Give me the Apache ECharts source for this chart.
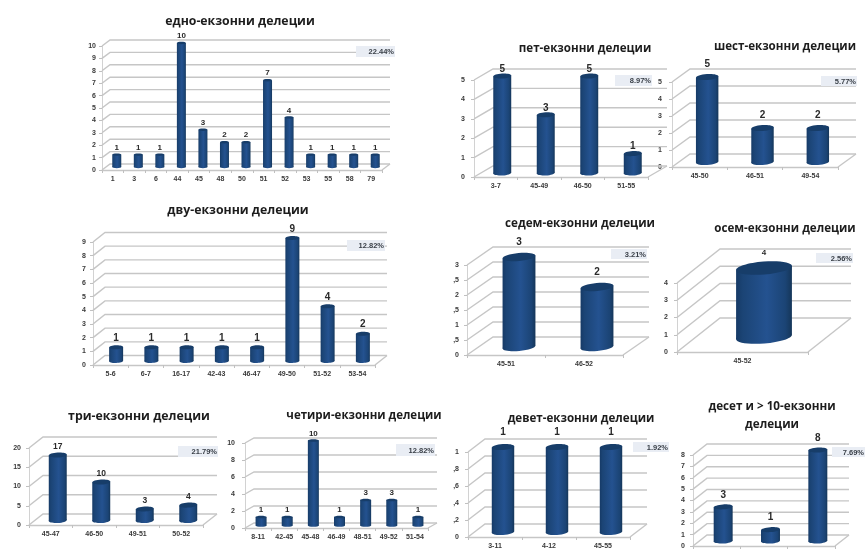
<!DOCTYPE html>
<html>
<head>
<meta charset="utf-8">
<title>Екзонни делеции</title>
<style>html,body{margin:0;padding:0;background:#fff}#chart{width:865px;height:553px}</style>
<script src="https://cdn.jsdelivr.net/npm/echarts@6/dist/echarts.min.js"></script>
</head>
<body>
<div id="chart"></div>
<script>
// Deletion counts per exon range, one group for each deletion size.
const oneExonCats = ['1','3','6','44','45','48','50','51','52','53','55','58','79'];
const oneExonVals = [1,1,1,10,3,2,2,7,4,1,1,1,1];
const twoExonCats = ['5-6','6-7','16-17','42-43','46-47','49-50','51-52','53-54'];
const twoExonVals = [1,1,1,1,1,9,4,2];
const threeExonCats = ['45-47','46-50','49-51','50-52'];
const threeExonVals = [17,10,3,4];
const fourExonCats = ['8-11','42-45','45-48','46-49','48-51','49-52','51-54'];
const fourExonVals = [1,1,10,1,3,3,1];
const fiveExonCats = ['3-7','45-49','46-50','51-55'];
const fiveExonVals = [5,3,5,1];
const sixExonCats = ['45-50','46-51','49-54'];
const sixExonVals = [5,2,2];
const sevenExonCats = ['45-51','46-52'];
const sevenExonVals = [3,2];
const eightExonCats = ['45-52'];
const eightExonVals = [4];
const nineExonCats = ['3-11','4-12','45-55'];
const nineExonVals = [1,1,1];
const tenExonCats = ['','',''];
const tenExonVals = [3,1,8];

// Y tick labels where they are not plain numbers
const sevenTicks = ['0',',5','1',',5','2',',5','3'];
const nineTicks = ['0',',2',',4',',6',',8','1'];

const titles = ['едно-екзонни делеции','дву-екзонни делеции','три-екзонни делеции','четири-екзонни делеции',
  'пет-екзонни делеции','шест-екзонни делеции','седем-екзонни делеции','осем-екзонни делеции',
  'девет-екзонни делеции','десет и > 10-екзонни\nделеции'];
const shares = ['22.44%','12.82%','21.79%','12.82%','8.97%','5.77%','3.21%','2.56%','1.92%','7.69%'];
const catGroups = [oneExonCats,twoExonCats,threeExonCats,fourExonCats,fiveExonCats,sixExonCats,sevenExonCats,eightExonCats,nineExonCats,tenExonCats];
const valGroups = [oneExonVals,twoExonVals,threeExonVals,fourExonVals,fiveExonVals,sixExonVals,sevenExonVals,eightExonVals,nineExonVals,tenExonVals];
const tickGroups = [null,null,null,null,null,null,sevenTicks,null,nineTicks,null];

// Panel layout: front plane l/r/t/b, wall depth dx/dy, bar offset bx/by, bar width w,
// cap radius ry and tilt, value-label gap, axis scale, label margin, title centre and size, share box.
const panels = [
 {l:102,r:382,t:46,b:170,dx:8,dy:6,bx:4,by:3,w:9,ry:1.2,tilt:0,gap:7,max:10,step:1,m:6,tx:240,ty:12,fs:12.3,box:[356,46,39,11],lf:8},
 {l:93,r:375,t:242,b:365,dx:12,dy:9.5,bx:5.5,by:4,w:14,ry:2,tilt:.03,gap:9,max:9,step:1,m:7,tx:238,ty:201,fs:12.3,box:[347,240,38,11],lf:10},
 {l:29,r:203,t:448,b:525,dx:14,dy:11,bx:7,by:4.5,w:18,ry:2.5,tilt:.06,gap:8,max:20,step:5,m:8,tx:139,ty:407,fs:12.3,box:[178,446,40,11],lf:8.5},
 {l:245,r:428,t:443,b:528,dx:9,dy:5,bx:3,by:2.5,w:11,ry:1.3,tilt:0,gap:7,max:10,step:2,m:10,tx:364,ty:407,fs:11.5,box:[396,444,39,12],lf:8},
 {l:474,r:648,t:80,b:177,dx:19,dy:11,bx:6.5,by:4,w:18,ry:2.5,tilt:.06,gap:7,max:5,step:1,m:9,tx:585,ty:40,fs:11.6,box:[615,75,37,11],lf:10},
 {l:672,r:838,t:82,b:167,dx:18,dy:13,bx:7.5,by:5,w:22.5,ry:3,tilt:.07,gap:13,max:5,step:1,m:10,tx:785,ty:38,fs:11.6,box:[821,76,36,10],lf:10},
 {l:467,r:623,t:265,b:355,dx:26,dy:18,bx:13,by:8,w:33,ry:4,tilt:.09,gap:15,max:3,step:.5,m:8,tx:580,ty:215,fs:11.7,box:[611,249,36,10],lf:10},
 {l:677,r:808,t:283,b:352,dx:43,dy:34,bx:21.5,by:15,w:56,ry:6.5,tilt:.08,gap:15,max:4,step:1,m:9,tx:785,ty:220,fs:11.6,box:[816,253,37,10],lf:8},
 {l:468,r:630,t:452,b:537,dx:17,dy:13,bx:8,by:5,w:22.5,ry:3,tilt:.07,gap:15,max:1,step:.2,m:9,tx:581,ty:410,fs:11.6,box:[633,442,36,10],lf:10},
 {l:693,r:835,t:455,b:546,dx:14,dy:11,bx:6.5,by:5,w:19,ry:2.5,tilt:.06,gap:12,max:8,step:1,m:8,tx:772,ty:398,fs:11.7,box:[832,447,33,10],lf:10}
];

const axisFont = {fontFamily:'Liberation Sans',fontSize:7,fontWeight:'bold',color:'#3a3a3a'};
const wallColor = '#c6c6c6';
const barSides = new echarts.graphic.LinearGradient(0,0,1,0,[
  {offset:0,color:'#163a66'},{offset:.12,color:'#1b4475'},{offset:.55,color:'#245290'},{offset:.88,color:'#1b4475'},{offset:1,color:'#153659'}]);

// Side wall, back wall and floor outline for every y tick
function renderWalls(p){
  return function(params,api){
    const v = api.value(0), y = api.coord([0,v])[1];
    const cs = params.coordSys, x0 = cs.x, x1 = cs.x+cs.width;
    const kids = [{type:'polyline',shape:{points:[[x0,y],[x0+p.dx,y-p.dy],[x1+p.dx,y-p.dy]]},
      style:{stroke:wallColor,lineWidth:1.4,fill:null}}];
    if(v===0){
      kids.push({type:'line',shape:{x1:x1,y1:y,x2:x1+p.dx,y2:y-p.dy},style:{stroke:wallColor,lineWidth:1.4}});
    }
    return {type:'group',children:kids};
  };
}

// A cylinder standing on the floor, with its count above the cap
function renderCylinder(p){
  return function(params,api){
    const i = api.value(0), v = api.value(1);
    const base = api.coord([i,0]), top = api.coord([i,v]);
    const cx = base[0]+p.bx, yb = base[1]-p.by, yt = top[1]-p.by;
    const rx = p.w/2, ca = Math.cos(p.tilt), sa = Math.sin(p.tilt);
    const lx = cx-rx*ca, rxx = cx+rx*ca, lo = rx*sa;
    return {type:'group',children:[
      {type:'ellipse',shape:{cx:cx,cy:yb,rx:rx,ry:p.ry},rotation:p.tilt,originX:cx,originY:yb,style:{fill:barSides}},
      {type:'polygon',shape:{points:[[lx,yt+lo],[rxx,yt-lo],[rxx,yb-lo],[lx,yb+lo]]},style:{fill:barSides}},
      {type:'ellipse',shape:{cx:cx,cy:yt,rx:rx,ry:p.ry},rotation:p.tilt,originX:cx,originY:yt,style:{fill:'#173d69'}},
      {type:'text',z2:5,style:{text:String(v),x:cx,y:yt-p.gap,align:'center',verticalAlign:'middle',
        fontFamily:'Liberation Sans',fontWeight:'bold',fontSize:p.lf,fill:'#2a2a2a'}}
    ]};
  };
}

const grid=[],xAxis=[],yAxis=[],series=[],title=[],graphic=[];
panels.forEach(function(p,k){
  grid.push({left:p.l,top:p.t,width:p.r-p.l,height:p.b-p.t});
  xAxis.push({type:'category',gridIndex:k,data:catGroups[k],
    axisLine:{lineStyle:{color:wallColor,width:1.4}},
    axisTick:{show:true,length:3,lineStyle:{color:'#c0c0c0'}},
    axisLabel:Object.assign({show:k!==9,margin:6,interval:0},axisFont),splitLine:{show:false}});
  const ticks = tickGroups[k];
  yAxis.push({type:'value',gridIndex:k,min:0,max:p.max,interval:p.step,
    axisLine:{show:true,lineStyle:{color:'#d2d2d2',width:1}},
    axisTick:{show:true,length:3,lineStyle:{color:'#c0c0c0'}},splitLine:{show:false},
    axisLabel:Object.assign({margin:p.m,showMinLabel:true,showMaxLabel:true,
      formatter:ticks?function(v){return ticks[Math.round(v/p.step)];}:undefined},axisFont)});
  const tickVals=[];
  for(let n=0;n<=Math.round(p.max/p.step);n++) tickVals.push([+(n*p.step).toFixed(2)]);
  series.push({type:'custom',xAxisIndex:k,yAxisIndex:k,z:1,silent:true,clip:false,data:tickVals,
    encode:{y:0},renderItem:renderWalls(p)});
  series.push({type:'custom',xAxisIndex:k,yAxisIndex:k,z:3,silent:true,clip:false,
    data:valGroups[k].map(function(v,i){return [i,v];}),encode:{x:0,y:1},renderItem:renderCylinder(p)});
  title.push({text:titles[k],left:p.tx,top:p.ty,padding:0,textAlign:'center',
    textStyle:{fontFamily:'Open Sans',fontWeight:'bold',fontSize:p.fs,lineHeight:18,color:'#1d1d1d'}});
  graphic.push({type:'rect',z:10,shape:{x:p.box[0],y:p.box[1],width:p.box[2],height:p.box[3]},style:{fill:'#e9edf4'}});
  graphic.push({type:'text',z:11,style:{text:shares[k],x:p.box[0]+p.box[2]-1,y:p.box[1]+p.box[3]/2+.5,
    align:'right',verticalAlign:'middle',fontFamily:'Liberation Sans',fontWeight:'bold',fontSize:7.5,fill:'#3a4048'}});
});

const chart = echarts.init(document.getElementById('chart'),null,{renderer:'canvas'});
chart.setOption({animation:false,backgroundColor:'#fff',title:title,grid:grid,xAxis:xAxis,yAxis:yAxis,series:series,graphic:{elements:graphic}});
</script>
</body>
</html>
